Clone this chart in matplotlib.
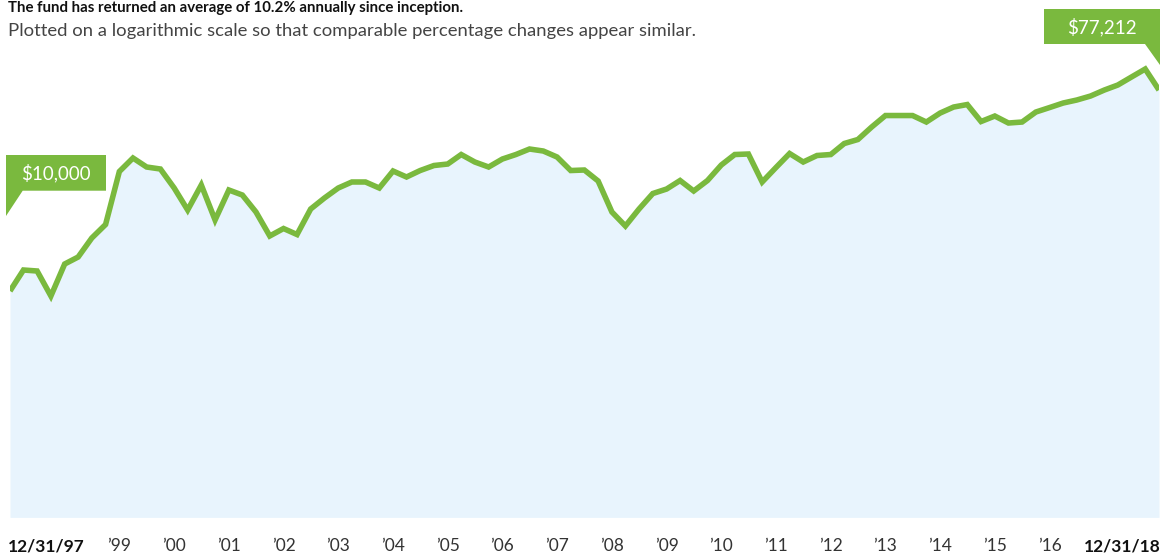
import numpy as np
import pandas as pd
import matplotlib
matplotlib.use("Agg")
import matplotlib.pyplot as plt
import matplotlib.dates as mdates
from matplotlib.patches import Polygon

# quarter-end growth of $10,000, 12/31/97 .. 12/31/18
dates = pd.date_range("1997-12-31", periods=85, freq="QE")
values = [
    10000, 12380, 12255, 9504, 13160, 14130, 17140, 19665, 33710, 38670,
    35290, 34580, 28500, 22790, 29390, 20590, 27930, 26540, 22330, 17500,
    18880, 17760, 23020, 25750, 28500, 30300, 30300, 28500, 33880, 31880,
    34050, 35830, 36380, 40070, 37130, 35290, 38280, 40070, 42380, 41520,
    39060, 34050, 34230, 30610, 22330, 19370, 23020, 26950, 28210, 30760,
    27650, 30760, 36010, 40070, 40280, 30300, 35110, 40480, 37130, 39670,
    40070, 44820, 46680, 53000, 59570, 59570, 59570, 55760, 61100, 64950,
    66620, 56050, 59270, 55200, 55760, 61730, 64620, 67650, 69750, 72640,
    77200, 81240, 88120, 95600, 77212,
]
year_labels = ["\u201999", "\u201900", "\u201901", "\u201902", "\u201903", "\u201904",
               "\u201905", "\u201906", "\u201907", "\u201908", "\u201909", "\u201910",
               "\u201911", "\u201912", "\u201913", "\u201914", "\u201915", "\u201916"]
year_ticks = pd.date_range("1999-12-31", periods=len(year_labels), freq="YE")
start_label = "$10,000"
end_label = "$77,212"

GREEN = "#7ab93e"
FILL = "#e8f4fd"
W, H = 1170, 554

plt.rcParams["font.family"] = ["Lato", "DejaVu Sans"]

fig = plt.figure(figsize=(W / 100, H / 100), dpi=100)
ax = fig.add_axes([10 / W, 1 - 517.4 / H, 1149 / W, 452.8 / H])

ax.fill_between(dates, values, 1000, color=FILL, lw=0)
ax.plot(dates, values, color=GREEN, lw=4, solid_joinstyle="miter", solid_capstyle="butt")
ax.set_yscale("log")
ax.set_ylim(1000, 100000)
ax.set_xlim(dates[0], dates[-1])
ax.axis("off")


def fx(px):
    return px / W


def fy(py):
    return 1 - py / H


# tick labels under the plot
trans = ax.get_xaxis_transform()
for d, lab in zip(year_ticks, year_labels):
    ax.text(d, -0.064, lab, transform=trans, ha="center", va="center",
            fontsize=12.5, color="#333333")
fig.text(fx(8), fy(546), "12/31/97", ha="left", va="center", fontsize=12.5,
         fontweight="bold", color="#111111")
fig.text(fx(1161), fy(546), "12/31/18", ha="right", va="center", fontsize=12.5,
         fontweight="bold", color="#111111")

# callout boxes
box1 = [(6, 155), (106, 155), (106, 190.7), (22.7, 190.7), (6, 216), (6, 155)]
box2 = [(1044, 9), (1160, 9), (1160, 65), (1145, 44), (1044, 44), (1044, 9)]
for pts in (box1, box2):
    fig.patches.append(Polygon([(fx(x), fy(y)) for x, y in pts], closed=True,
                               transform=fig.transFigure, color=GREEN, lw=0))
fig.text(fx(56), fy(173), start_label, ha="center", va="center", fontsize=13.5,
         color="white")
fig.text(fx(1102), fy(27), end_label, ha="center", va="center", fontsize=13.5,
         color="white")

fig.text(fx(8), fy(8), "The fund has returned an average of 10.2% annually since inception.",
         ha="left", va="center", fontsize=10.8, fontweight="bold", color="#111111")
fig.text(fx(8), fy(31), "Plotted on a logarithmic scale so that comparable percentage changes appear similar.",
         ha="left", va="center", fontsize=13.3, color="#444444")

fig.savefig("out.png", dpi=100)
